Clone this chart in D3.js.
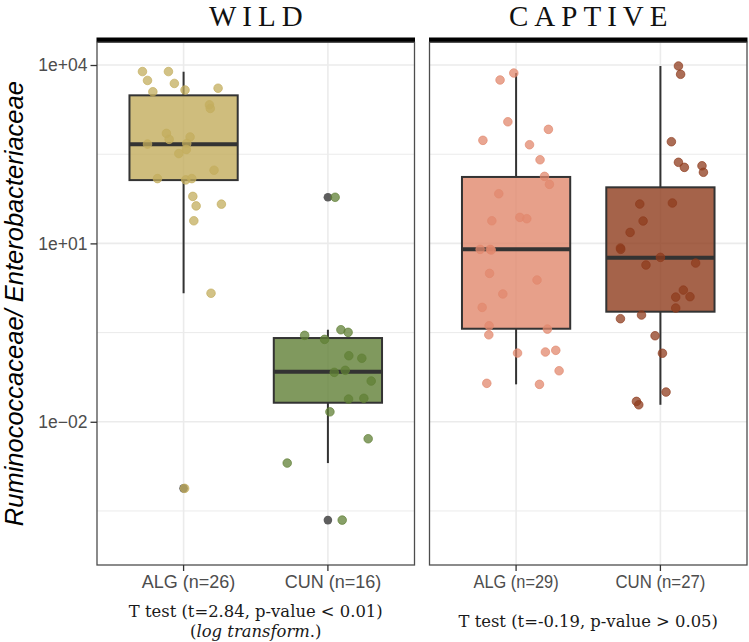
<!DOCTYPE html>
<html><head><meta charset="utf-8">
<script src="https://cdn.jsdelivr.net/npm/d3@7"></script>
<style>body{margin:0;background:#fff}</style>
</head><body>
<svg id="chart" width="749" height="642"></svg>
<script>
// ---------------- DATA ----------------
const panels = ["WILD", "CAPTIVE"];
const categories = ["ALG", "CUN"];
const xTickLabels = [["ALG (n=26)", "CUN (n=16)"], ["ALG (n=29)", "CUN (n=27)"]];
const testLine1 = ["T test (t=2.84, p-value < 0.01)", "T test (t=-0.19, p-value > 0.05)"];
const testLine2 = ["log transform.", null];
const yTicks = [1e-2, 1e1, 1e4];
const yTickLabels = ["1e\u221202", "1e+01", "1e+04"];
const yMinorTicks = [3.16e-4, 0.316, 316];
const yLimits = [3.9e-5, 2.41e4];
const yTitle = "Ruminococcaceae/ Enterobacteriaceae";

// groups: WILD-ALG, WILD-CUN, CAPTIVE-ALG, CAPTIVE-CUN
const groupPanel = ["WILD", "WILD", "CAPTIVE", "CAPTIVE"];
const groupCat = ["ALG", "CUN", "ALG", "CUN"];
const whiskerLow = [1.45, 0.00202, 0.0426, 0.0193];
const boxQ1 = [116, 0.0209, 0.367, 0.710];
const boxMedian = [463, 0.0693, 7.94, 5.74];
const boxQ3 = [3090, 0.256, 131, 87.7];
const whiskerHigh = [7710, 0.353, 7330, 9620];
const outliers = [[0.000759], [59.6, 0.000222], [], []];

const wildAlgValues = [7760, 7760, 5500, 4900, 3550, 3800, 4070, 2140, 1860, 708, 562, 617, 468, 479, 380, 324, 170, 123, 117, 123, 61.7, 42.7, 45.7, 24.0, 1.45, 0.000759];
const wildAlgJitter = [-0.285, -0.105, -0.25, -0.064, -0.213, 0.01, 0.239, 0.179, 0.185, -0.119, -0.10, 0.045, -0.25, 0.022, 0.019, -0.033, 0.211, -0.181, 0.015, 0.057, 0.064, 0.087, 0.262, 0.071, 0.19, 0.007];
const wildCunValues = [59.6, 0.284, 0.243, 0.353, 0.319, 0.129, 0.117, 0.0678, 0.0733, 0.0484, 0.0241, 0.0248, 0.0147, 0.00518, 0.00202, 0.000222];
const wildCunJitter = [0.05, -0.161, -0.023, 0.09, 0.14, 0.145, 0.235, 0.044, 0.12, 0.30, 0.143, 0.249, 0.014, 0.279, -0.282, 0.099];
const captiveAlgValues = [7330, 5600, 1110, 828, 541, 456, 255, 134, 98.4, 68.4, 24.0, 27.4, 26.0, 7.94, 7.94, 3.13, 2.42, 1.41, 0.839, 0.412, 0.290, 0.362, 0.143, 0.149, 0.159, 0.0721, 0.0443, 0.0426, 7.73];
const captiveAlgJitter = [-0.016, -0.111, -0.057, 0.224, -0.23, 0.093, 0.166, 0.197, 0.231, -0.12, -0.168, 0.026, 0.074, -0.249, -0.18, -0.184, 0.145, -0.092, -0.235, -0.187, -0.189, 0.217, 0.01, 0.203, 0.275, 0.298, -0.203, 0.162, -0.172];
const captiveCunValues = [9620, 6980, 513, 231, 190, 202, 157, 45.9, 47.8, 23.8, 15.3, 8.36, 7.94, 5.82, 4.33, 4.67, 1.64, 1.25, 1.27, 0.818, 0.541, 0.624, 0.280, 0.142, 0.0316, 0.0220, 0.0193];
const captiveCunJitter = [0.125, 0.14, 0.076, 0.125, 0.166, 0.288, 0.298, -0.143, 0.083, -0.12, -0.21, -0.277, -0.275, 0, -0.1, 0.244, 0.159, 0.106, 0.205, 0.106, -0.277, -0.131, -0.037, 0.014, 0.039, -0.166, -0.15];

const groupValues = [wildAlgValues, wildCunValues, captiveAlgValues, captiveCunValues];
const groupJitter = [wildAlgJitter, wildCunJitter, captiveAlgJitter, captiveCunJitter];
const groupColors = ["#c3ad5d", "#608036", "#e1886d", "#8f3c1d"];

// ---------------- LAYOUT ----------------
const svg = d3.select("#chart");
const panelTop = 42.3, panelBottom = 565;
const panelX = {WILD: [97, 414.5], CAPTIVE: [429.5, 747]};
const sans = "'Liberation Sans', Arial, sans-serif";
const serif = "'DejaVu Serif', serif";
const titleSerif = "'Liberation Serif', 'Times New Roman', serif";

const y = d3.scaleLog().domain(yLimits).range([panelBottom, panelTop]);
const xScales = {};
panels.forEach(p => {
  xScales[p] = d3.scaleBand().domain(categories).range(panelX[p]).paddingInner(0).paddingOuter(0.1);
});
const cx = (p, c) => xScales[p](c) + xScales[p].bandwidth() / 2;

panels.forEach((p, pi) => {
  const [x0, x1] = panelX[p];
  const g = svg.append("g");
  g.append("rect").attr("x", x0).attr("y", panelTop).attr("width", x1 - x0).attr("height", panelBottom - panelTop).attr("fill", "#fff");
  g.selectAll(".minor").data(yMinorTicks).join("line")
    .attr("x1", x0).attr("x2", x1).attr("y1", d => y(d)).attr("y2", d => y(d))
    .attr("stroke", "#ebebeb").attr("stroke-width", 1);
  g.selectAll(".major").data(yTicks).join("line")
    .attr("x1", x0).attr("x2", x1).attr("y1", d => y(d)).attr("y2", d => y(d))
    .attr("stroke", "#ebebeb").attr("stroke-width", 1.6);
  g.selectAll(".vgrid").data(categories).join("line")
    .attr("x1", d => cx(p, d)).attr("x2", d => cx(p, d)).attr("y1", panelTop).attr("y2", panelBottom)
    .attr("stroke", "#ebebeb").attr("stroke-width", 1.6);
  g.append("rect").attr("x", x0 - 0.5).attr("y", 37.5).attr("width", x1 - x0 + 1).attr("height", 4.8).attr("fill", "#000");
  g.append("text").attr("x", (x0 + x1) / 2 + 3).attr("y", 26).attr("text-anchor", "middle")
    .attr("font-family", titleSerif).attr("font-size", 29).attr("letter-spacing", 6).attr("fill", "#111").text(p);
});

// boxes
groupPanel.forEach((p, i) => {
  const c = groupCat[i];
  const xc = cx(p, c);
  const bw = xScales[p].bandwidth() * 0.75;
  const g = svg.append("g");
  g.append("line").attr("x1", xc).attr("x2", xc).attr("y1", y(whiskerHigh[i])).attr("y2", y(boxQ3[i])).attr("stroke", "#333").attr("stroke-width", 2);
  g.append("line").attr("x1", xc).attr("x2", xc).attr("y1", y(boxQ1[i])).attr("y2", y(whiskerLow[i])).attr("stroke", "#333").attr("stroke-width", 2);
  g.append("rect").attr("x", xc - bw / 2).attr("width", bw).attr("y", y(boxQ3[i])).attr("height", y(boxQ1[i]) - y(boxQ3[i]))
    .attr("fill", groupColors[i]).attr("fill-opacity", 0.8).attr("stroke", "#333").attr("stroke-width", 2);
  g.append("line").attr("x1", xc - bw / 2).attr("x2", xc + bw / 2).attr("y1", y(boxMedian[i])).attr("y2", y(boxMedian[i])).attr("stroke", "#333").attr("stroke-width", 4);
  g.selectAll("circle").data(outliers[i]).join("circle")
    .attr("cx", xc).attr("cy", d => y(d)).attr("r", 4.3).attr("fill", "#4d4d4d").attr("fill-opacity", 0.9);
});

// jittered points
groupPanel.forEach((p, i) => {
  const c = groupCat[i];
  const xc = cx(p, c);
  const step = xScales[p].step();
  const pts = groupValues[i].map((v, k) => ({v, dx: groupJitter[i][k]}));
  svg.append("g").selectAll("circle").data(pts).join("circle")
    .attr("cx", d => xc + d.dx * step).attr("cy", d => y(d.v)).attr("r", 4.3)
    .attr("fill", groupColors[i]).attr("fill-opacity", 0.75)
    .attr("stroke", groupColors[i]).attr("stroke-opacity", 0.85).attr("stroke-width", 0.8);
});

// panel borders
panels.forEach(p => {
  const [x0, x1] = panelX[p];
  svg.append("rect").attr("x", x0).attr("y", panelTop).attr("width", x1 - x0).attr("height", panelBottom - panelTop)
    .attr("fill", "none").attr("stroke", "#4d4d4d").attr("stroke-width", 1.3);
});

// y axis
const yAxis = svg.append("g").attr("transform", `translate(${panelX.WILD[0]},0)`)
  .call(d3.axisLeft(y).tickValues(yTicks).tickFormat((d, i) => yTickLabels[i]).tickSize(6.5).tickPadding(3));
yAxis.select(".domain").remove();
yAxis.selectAll("line").attr("stroke", "#333").attr("stroke-width", 1.3);
yAxis.selectAll("text").attr("font-family", sans).attr("font-size", 17.5).attr("fill", "#4d4d4d");

// x axes
panels.forEach((p, pi) => {
  const ax = svg.append("g").attr("transform", `translate(0,${panelBottom})`)
    .call(d3.axisBottom(xScales[p]).tickFormat((d, i) => xTickLabels[pi][i]).tickSizeInner(6).tickSizeOuter(0).tickPadding(4));
  ax.select(".domain").remove();
  ax.selectAll("line").attr("stroke", "#333").attr("stroke-width", 1.3);
  ax.selectAll("text").attr("font-family", sans).attr("font-size", 18).attr("fill", "#4d4d4d")
    .attr("dx", pi === 0 ? 5 : 0);
  if (pi === 1) ax.selectAll("text").attr("textLength", (d, i) => [85, 90][i]).attr("lengthAdjust", "spacingAndGlyphs");
});

// test annotations
const cxW = (panelX.WILD[0] + panelX.WILD[1]) / 2;
const cxC = (panelX.CAPTIVE[0] + panelX.CAPTIVE[1]) / 2;
svg.append("text").attr("x", cxW).attr("y", 616.7).attr("text-anchor", "middle")
  .attr("font-family", serif).attr("font-size", 16.4).attr("fill", "#1a1a1a").text(testLine1[0]);
const t2 = svg.append("text").attr("x", cxW).attr("y", 637).attr("text-anchor", "middle")
  .attr("font-family", serif).attr("font-size", 16.4).attr("fill", "#1a1a1a");
t2.append("tspan").text("(");
t2.append("tspan").attr("font-style", "italic").text(testLine2[0].replace(".", ""));
t2.append("tspan").text(".)");
svg.append("text").attr("x", cxC).attr("y", 627).attr("text-anchor", "middle")
  .attr("font-family", serif).attr("font-size", 16.4).attr("fill", "#1a1a1a").text(testLine1[1]);

// y title
svg.append("text").attr("transform", `translate(23,${(panelTop + panelBottom) / 2}) rotate(-90)`)
  .attr("text-anchor", "middle").attr("font-family", sans).attr("font-style", "italic").attr("font-size", 25.5)
  .attr("fill", "#000").text(yTitle);
</script>
</body></html>
